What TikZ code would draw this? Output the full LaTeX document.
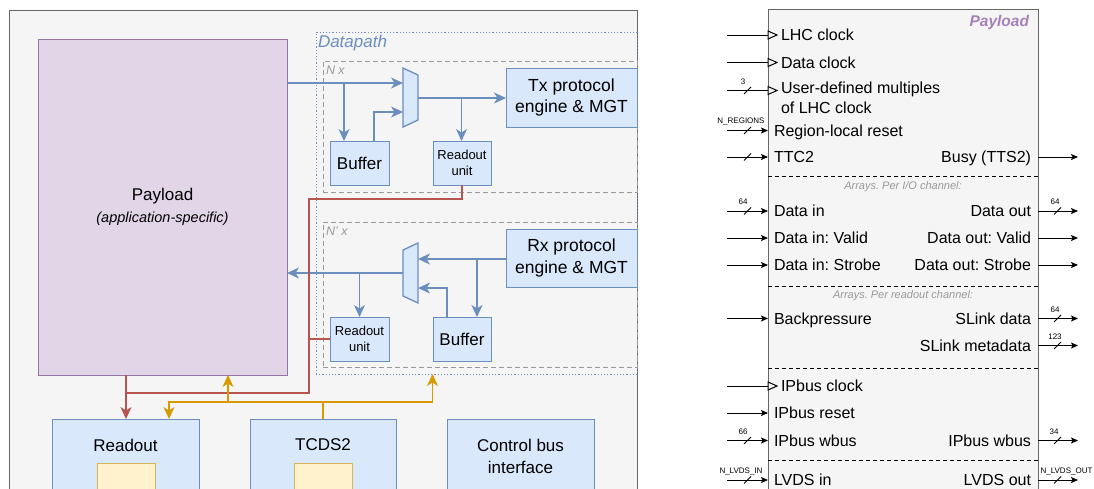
\documentclass[tikz,border=0pt]{standalone}
\usepackage{fontspec}
\setmainfont{Liberation Sans}
\usetikzlibrary{arrows.meta,calc,fit}
\definecolor{frameg}{HTML}{666666}
\definecolor{bgg}{HTML}{F5F5F5}
\definecolor{purfill}{HTML}{E1D5E7}
\definecolor{purdraw}{HTML}{9673A6}
\definecolor{blfill}{HTML}{DAE8FC}
\definecolor{bldraw}{HTML}{6C8EBF}
\definecolor{yfill}{HTML}{FFF2CC}
\definecolor{ydraw}{HTML}{D6B656}
\definecolor{redl}{HTML}{B85450}
\definecolor{orl}{HTML}{D79B00}
\definecolor{lbl}{HTML}{999999}
\definecolor{ptitle}{HTML}{A680B8}
\frenchspacing
\newcommand\fsz[2]{\fontsize{#1}{#2}\selectfont}
\newcommand\clkin[3]{%
  \coordinate (i#1) at (727,#2);
  \draw[wire] (i#1) -- (i#1 -| pb.west);
  \draw[clk] (768,#2-4) -- (777,#2) -- (768,#2+4) -- cycle;
  \node[sigl] (t#1) at (781,#2) {#3};}
\newcommand\arin[3]{%
  \coordinate (i#1) at (727,#2);
  \draw[wirea] (i#1) -- (i#1 -| pb.west);
  \node[sigl] (t#1) at (774,#2) {#3};}
\newcommand\arout[3]{%
  \coordinate (o#1) at (1078,#2);
  \draw[wirea] (o#1 -| pb.east) -- (o#1);
  \node[sigr] (t#1) at (1031,#2) {#3};}
\newcommand\busin[3]{%
  \draw[wire] (744,#1+3.5) -- (751,#1-3.5);
  \node[busl] at (#3,#1-9) {#2};}
\newcommand\busout[3]{%
  \draw[wire] (1054,#1+3.5) -- (1061,#1-3.5);
  \node[busl] at (#3,#1-9) {#2};}
\begin{document}
\begin{tikzpicture}[x=1pt,y=-1pt,
  every node/.style={outer sep=0pt},
  frame/.style={draw=frameg, fill=bgg, line width=1pt, inner sep=0pt},
  bluebox/.style={draw=bldraw, fill=blfill, line width=1pt, inner sep=0pt, align=center},
  yelbox/.style={draw=ydraw, fill=yfill, line width=1pt, inner sep=0pt},
  blp/.style={draw=bldraw, line width=1.3pt},
  bl/.style={blp, -{Stealth[length=12pt,width=11pt,inset=3.5pt]}},
  rd/.style={draw=redl, line width=1.3pt},
  rda/.style={rd, -{Stealth[length=12pt,width=11pt,inset=3.5pt]}},
  orp/.style={draw=orl, line width=1.3pt},
  ora/.style={orp, -{Stealth[length=12pt,width=11pt,inset=3.5pt]}},
  wire/.style={draw=black, line width=1pt},
  wirea/.style={wire, -{Stealth[length=7pt,width=6pt,inset=1.5pt]}},
  clk/.style={draw=black, fill=bgg, line width=1pt},
  sigl/.style={anchor=west, inner sep=0pt, font=\fsz{16}{19}, text height=11.5pt, text depth=0pt},
  sigr/.style={anchor=east, inner sep=0pt, font=\fsz{16}{19}, text height=11.5pt, text depth=0pt},
  busl/.style={font=\fsz{8}{9}, inner sep=0pt},
  sepl/.style={draw=black, line width=1pt, dash pattern=on 4pt off 3pt}
]
\useasboundingbox (0,0) rectangle (1094,488);
\clip (0,0) rectangle (1094,488);

% ---------------- left diagram ----------------
\node[frame, fit={(9,10) (637,530)}] (outer) {};
\node[draw=purdraw, fill=purfill, line width=1pt, inner sep=0pt, fit={(38,39) (287,375)}] (payload) {};
\node[font=\fsz{17}{20}] (plbl) at (162.5,196) {Payload};
\node[font=\itshape\fsz{14.5}{17}] (psub) at (162.5,219) {(application-specific)};

\node[draw=bldraw, line width=1pt, dash pattern=on 1.2pt off 2pt, inner sep=0pt, fit={(316,32) (637,374)}] (dp) {};
\node[anchor=west, inner sep=0pt, text=bldraw, font=\itshape\fsz{17}{20}] (dplbl) at (318,43) {Datapath};

\node[draw=lbl, line width=1pt, dash pattern=on 5pt off 3pt, inner sep=0pt, fit={(323,61) (637,192)}] (nx) {};
\node[anchor=west, inner sep=0pt, text=lbl, font=\itshape\fsz{12.5}{15}] (nxlbl) at (326,70) {N x};
\node[draw=lbl, line width=1pt, dash pattern=on 5pt off 3pt, inner sep=0pt, fit={(323,222) (637,367)}] (nrx) {};
\node[anchor=west, inner sep=0pt, text=lbl, font=\itshape\fsz{12.5}{15}] (nrxlbl) at (326,231) {N' x};

% Tx
\node[inner sep=0pt, fit={(403,68) (418,127)}] (txmux) {};
\draw[draw=bldraw, fill=blfill, line width=1.3pt] (403,68) -- (418,75) -- (418,120) -- (403,127) -- cycle;
\node[bluebox, fit={(506,68) (637,127)}] (txeng) {};
\node[font=\fsz{17.5}{21.5}, align=center] (txengl) at (txeng.center) {Tx protocol\\engine \& MGT};
\node[bluebox, fit={(330,141) (389,185)}] (txbuf) {};
\node[font=\fsz{17}{20}] (txbufl) at (txbuf.center) {Buffer};
\node[bluebox, fit={(433,141) (491,185)}] (txro) {};
\node[font=\fsz{13}{15.7}, align=center] (txrol) at (txro.center) {Readout\\unit};

% Rx
\node[inner sep=0pt, fit={(403,243) (418,303)}] (rxmux) {};
\draw[draw=bldraw, fill=blfill, line width=1.3pt] (403,250) -- (418,243) -- (418,303) -- (403,296) -- cycle;
\node[bluebox, fit={(506,229) (637,287)}] (rxeng) {};
\node[font=\fsz{17.5}{21.5}, align=center] (rxengl) at (rxeng.center) {Rx protocol\\engine \& MGT};
\node[bluebox, fit={(433,317) (491,361)}] (rxbuf) {};
\node[font=\fsz{17}{20}] (rxbufl) at (rxbuf.center) {Buffer};
\node[bluebox, fit={(330,317) (389,361)}] (rxro) {};
\node[font=\fsz{13}{15.7}, align=center] (rxrol) at (rxro.center) {Readout\\unit};

% bottom boxes
\node[bluebox, fit={(52,419) (199,530)}] (readout) {};
\node[font=\fsz{17}{20}] (readoutl) at (125.5,445) {Readout};
\node[yelbox, fit={(97,463) (155,530)}] (ry) {};
\node[bluebox, fit={(250,419) (396,530)}] (tcds) {};
\node[font=\fsz{17}{20}] (tcdsl) at (323,445) {TCDS2};
\node[yelbox, fit={(294,463) (352,530)}] (ty) {};
\node[bluebox, fit={(447,419) (594,530)}] (ctrl) {};
\node[font=\fsz{17}{20}] (ctrll1) at (520.5,445) {Control bus};
\node[font=\fsz{17}{20}] (ctrll2) at (520.5,467) {interface};

% Tx connectors
\coordinate (txj) at (344,83);
\draw[bl] (payload.east |- txj) -- (txmux.west |- txj);
\draw[bl] (txj) -- (txj |- txbuf.north);
\coordinate (txbo) at (374,112);
\draw[bl] (txbo |- txbuf.north) |- (txmux.west |- txbo);
\coordinate (txmo) at (461.5,98);
\draw[bl] (txmux.east |- txmo) -- (txeng.west |- txmo);
\draw[bl] (txmo) -- (txmo |- txro.north);

% Rx connectors
\coordinate (rxj) at (477,259);
\draw[bl] (rxeng.west |- rxj) -- (rxmux.east |- rxj);
\draw[bl] (rxj) -- (rxj |- rxbuf.north);
\coordinate (rxbo) at (447,288);
\draw[bl] (rxbo |- rxbuf.north) |- (rxmux.east |- rxbo);
\coordinate (rxmo) at (359.5,273);
\draw[bl] (rxmux.west |- rxmo) -- (payload.east |- rxmo);
\draw[bl] (rxmo) -- (rxro.north);

% red readout path
\coordinate (r1) at (309,199);
\coordinate (r2) at (309,393);
\coordinate (r3) at (126,393);
\draw[rd] (txro.south) |- (r1) -- (r2) -- (r3);
\draw[rd] (rxro.west) -- (rxro.west -| r1);
\draw[rda] (payload.south -| r3) -- (r3 |- readout.north);

% orange TCDS2 path
\coordinate (o1) at (169,402);
\coordinate (o2) at (228,402);
\coordinate (o3) at (432.5,402);
\draw[orp] (tcds.north) -- (o1 -| tcds.north);
\draw[ora] (o1 -| tcds.north) -- (o1) -- (o1 |- readout.north);
\draw[ora] (o1 -| tcds.north) -- (o3) -- (o3 |- dp.south);
\draw[ora] (o2) -- (o2 |- payload.south);

% ---------------- right diagram ----------------
\node[frame, fit={(768,9) (1038,530)}] (pb) {};
\node[anchor=east, inner sep=0pt, text=ptitle, font=\bfseries\itshape\fsz{15.5}{18}] (pbt) at (1029,22) {Payload};

\coordinate (s1) at (768,176.5);
\coordinate (s2) at (768,286);
\coordinate (s3) at (768,368);
\coordinate (s4) at (768,460);
\foreach \s in {s1,s2,s3,s4} \draw[sepl] (\s) -- (\s -| pb.east);

\node[font=\itshape\fsz{11}{13}, text=lbl] (arr1) at (903,187) {Arrays. Per I/O channel:};
\node[font=\itshape\fsz{11}{13}, text=lbl] (arr2) at (903,296) {Arrays. Per readout channel:};

\clkin{lhc}{35}{LHC clock}
\clkin{dclk}{62.5}{Data clock}
\coordinate (iudm) at (727,90.5);
\draw[wire] (iudm) -- (iudm -| pb.west);
\draw[clk] (768,86.5) -- (777,90.5) -- (768,94.5) -- cycle;
\node[sigl] (tudm1) at (781,87.5) {User-defined multiples};
\node[sigl] (tudm2) at (781,107.5) {of LHC clock};
\busin{90.5}{3}{743}

\arin{rlr}{130.5}{Region-local reset}
\busin{130.5}{N\_REGIONS}{741}
\arin{ttc}{157}{TTC2}
\draw[wire] (744,160.5) -- (751,153.5);
\arout{busy}{157}{Busy (TTS2)}

\arin{din}{211}{Data in}
\busin{211}{64}{743}
\arout{dout}{211}{Data out}
\busout{211}{64}{1055}
\arin{dinv}{238}{Data in: Valid}
\arout{doutv}{238}{Data out: Valid}
\arin{dins}{265}{Data in: Strobe}
\arout{douts}{265}{Data out: Strobe}

\arin{bp}{318.5}{Backpressure}
\arout{sld}{318.5}{SLink data}
\busout{318.5}{64}{1055}
\arout{slm}{345.5}{SLink metadata}
\busout{345.5}{123}{1055}

\clkin{ipc}{386}{IPbus clock}
\arin{ipr}{413}{IPbus reset}
\arin{ipw}{440.5}{IPbus wbus}
\busin{440.5}{66}{743}
\arout{ipwo}{440.5}{IPbus wbus}
\busout{440.5}{34}{1054}

\arin{lvi}{480}{LVDS in}
\busin{480}{N\_LVDS\_IN}{741}
\arout{lvo}{480}{LVDS out}
\busout{480}{N\_LVDS\_OUT}{1066.5}
\end{tikzpicture}
\end{document}
